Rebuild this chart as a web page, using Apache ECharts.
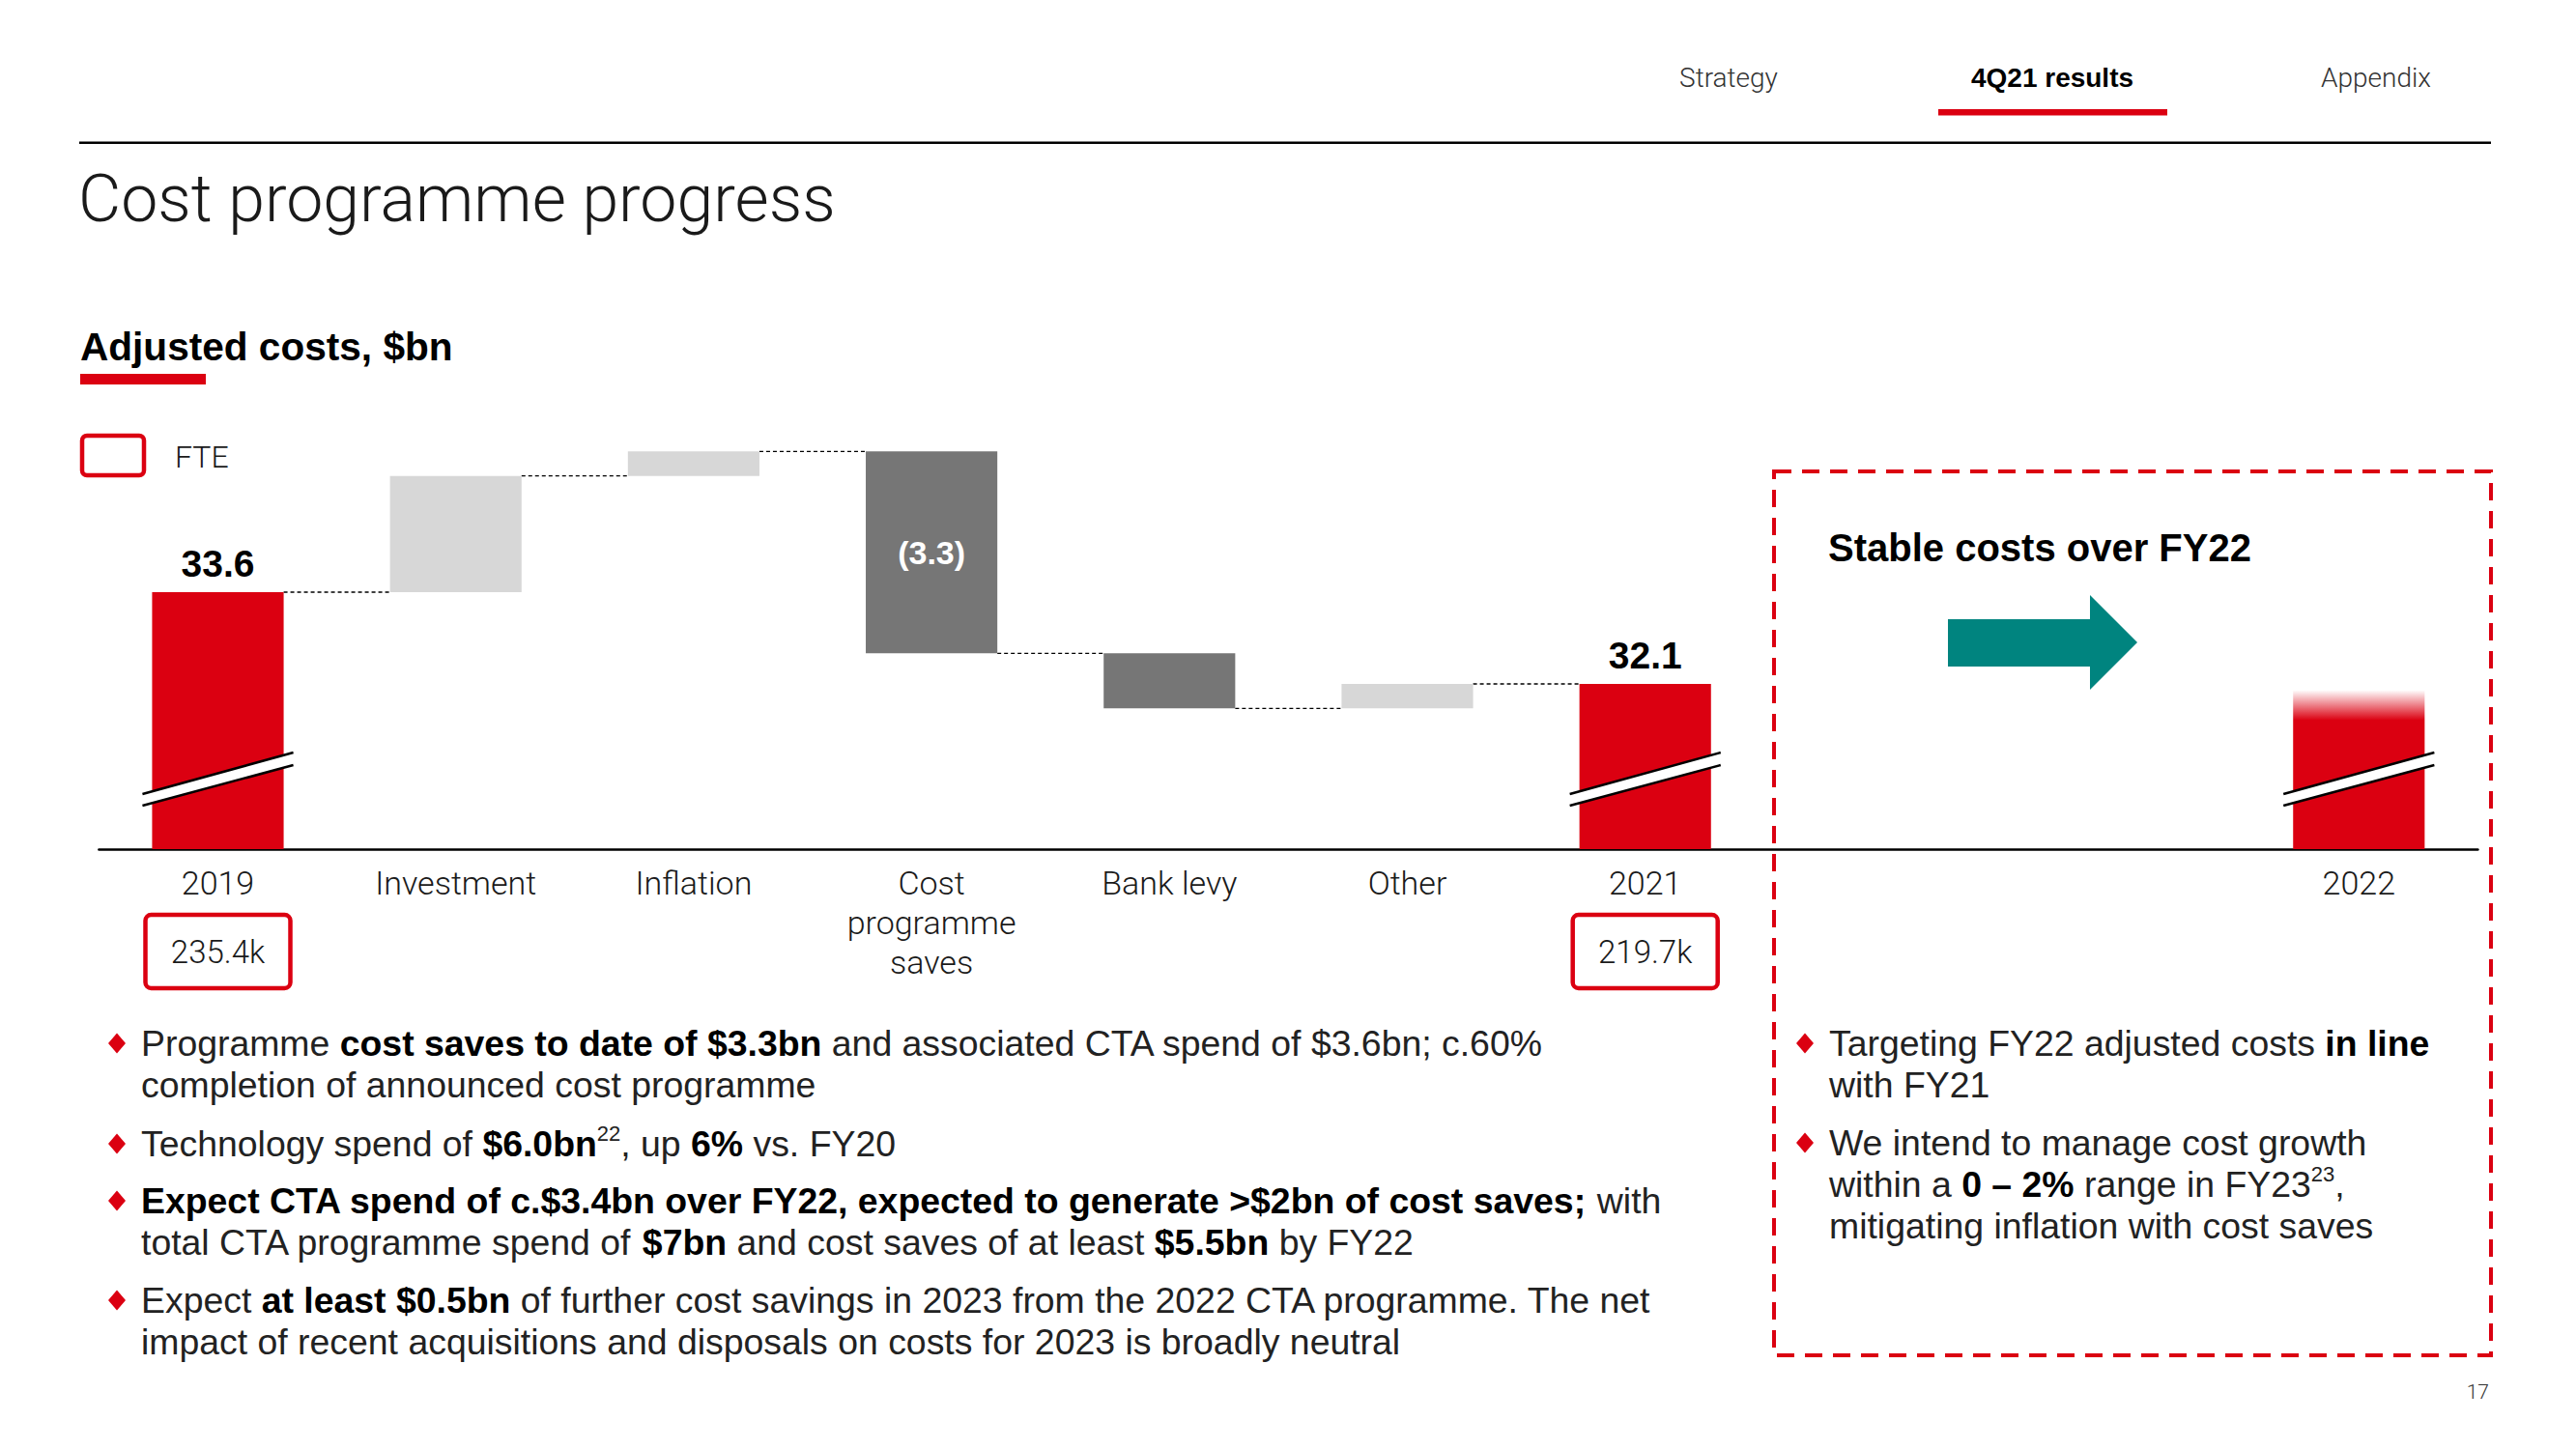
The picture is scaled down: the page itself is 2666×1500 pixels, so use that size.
<!DOCTYPE html>
<html><head><meta charset="utf-8">
<script src="https://cdn.jsdelivr.net/npm/echarts@6/dist/echarts.min.js"></script>
<style>html,body{margin:0;padding:0;background:#fff}#chart{width:2666px;height:1500px}</style>
</head><body><div id="chart"></div>
<script>
// ---- data ----
const categories = ['2019', 'Investment', 'Inflation', 'Cost\nprogramme\nsaves', 'Bank levy', 'Other', '2021', '', '', '2022'];
const totals = [33.6, null, null, null, null, null, 32.1, null, null, 32.0];
const changes = [null, 1.9, 0.4, -3.3, -0.9, 0.4, null, null, null, null];
const valueLabels = ['33.6', '', '', '(3.3)', '', '', '32.1', '', '', ''];
const fteLabels = ['235.4k', '', '', '', '', '', '219.7k', '', '', ''];
const projected = [false, false, false, false, false, false, false, false, false, true];
const axisFloor = 29.4;   // broken axis starts here
const axisCeil = 36.5;

const RED = '#DB0011', LIGHT = '#D7D7D7', DARK = '#767676', TEAL = '#00847F';
const F_LIGHT = 'Roboto', F_BODY = 'Liberation Sans', F_BOLD = 'Liberation Sans';

// build waterfall bars
const barData = [], connData = [];
let run = 0;
for (let i = 0; i < categories.length; i++) {
  if (totals[i] != null) {
    barData.push([i, axisFloor, totals[i], 0]);
    run = totals[i];
  } else if (changes[i] != null) {
    const a = run, b = run + changes[i];
    barData.push([i, Math.min(a, b), Math.max(a, b), changes[i] > 0 ? 1 : 2]);
    run = b;
  } else continue;
  barData[barData.length - 1].push(run);
}
for (let k = 0; k < barData.length - 1; k++) {
  if (barData[k + 1][0] === barData[k][0] + 1) connData.push([barData[k][0], barData[k][4]]);
}

function renderBar(params, api) {
  const i = api.value(0), lo = api.value(1), hi = api.value(2), kind = api.value(3);
  const pT = api.coord([i, hi]), pB = api.coord([i, lo]);
  const band = api.size([1, 0])[0];
  const w = band * 0.553;
  const cx = pT[0];
  let fill = kind === 0 ? RED : (kind === 1 ? LIGHT : DARK);
  if (projected[i]) {
    fill = {type: 'linear', x: 0, y: 0, x2: 0, y2: 1, colorStops: [
      {offset: 0, color: 'rgba(219,0,17,0)'}, {offset: 0.19, color: RED}, {offset: 1, color: RED}]};
  }
  const ch = [{type: 'rect', shape: {x: cx - w / 2, y: pT[1], width: w, height: pB[1] - pT[1]}, style: {fill: fill}}];
  if (kind === 0) {
    const by = pB[1], h = w / 2 + 10;
    ch.push({type: 'polygon', shape: {points: [[cx - h, by - 57], [cx + h, by - 100], [cx + h, by - 87], [cx - h, by - 45]]}, style: {fill: '#fff'}});
    ch.push({type: 'line', shape: {x1: cx - h, y1: by - 57, x2: cx + h, y2: by - 100}, style: {stroke: '#000', lineWidth: 2.5}});
    ch.push({type: 'line', shape: {x1: cx - h, y1: by - 45, x2: cx + h, y2: by - 87}, style: {stroke: '#000', lineWidth: 2.5}});
  }
  const lab = valueLabels[i];
  if (lab) {
    if (kind === 0) {
      ch.push({type: 'text', x: cx, y: pT[1] - 29, style: {text: lab, fill: '#000', fontSize: 39, fontWeight: 'bold', fontFamily: F_BOLD, align: 'center', verticalAlign: 'middle'}});
    } else {
      ch.push({type: 'text', x: cx, y: (pT[1] + pB[1]) / 2, style: {text: lab, fill: '#fff', fontSize: 34, fontWeight: 'bold', fontFamily: F_BOLD, align: 'center', verticalAlign: 'middle'}});
    }
  }
  return {type: 'group', children: ch};
}

function renderConn(params, api) {
  const i = api.value(0), lv = api.value(1);
  const p = api.coord([i, lv]);
  const band = api.size([1, 0])[0];
  const w = band * 0.553;
  return {type: 'line', shape: {x1: p[0] + w / 2, y1: p[1], x2: p[0] + band - w / 2, y2: p[1]},
    style: {stroke: '#000', lineWidth: 1.3, lineDash: [4, 3]}};
}

const chart = echarts.init(document.getElementById('chart'), null, {renderer: 'svg'});
chart.setOption({
  animation: false,
  grid: {left: 102.4, right: 101.6, top: 429.3, bottom: 621},
  xAxis: {type: 'category', data: categories,
    axisLine: {lineStyle: {color: '#000', width: 2.5}}, axisTick: {show: false},
    axisLabel: {interval: 0, margin: 14, fontFamily: F_LIGHT, fontWeight: 300, fontSize: 34, lineHeight: 41, color: '#1a1a1a'},
    splitLine: {show: false}},
  yAxis: {type: 'value', min: axisFloor, max: axisCeil, show: false},
  series: [
    {type: 'custom', renderItem: renderConn, data: connData, encode: {x: 0, y: 1}, z: 1, silent: true},
    {type: 'custom', renderItem: renderBar, data: barData, encode: {x: 0, y: [1, 2]}, z: 2, clip: false, silent: true}
  ]
});

// ---- slide furniture ----
function txt(x, y, text, o) {
  o = o || {};
  const va = o.va || 'middle';
  return {type: 'text', x: x, y: y, style: Object.assign({text: text, fill: o.fill || '#1a1a1a', fontSize: o.size || 34,
    fontFamily: o.family || F_LIGHT, fontWeight: o.weight || 300, align: o.align || 'left', verticalAlign: va,
    textAlign: o.align || 'left', textVerticalAlign: va}, o.rich ? {rich: o.rich} : {})};
}
function diamond(cx, cy) {
  return {type: 'polygon', shape: {points: [[cx, cy - 10.5], [cx + 9, cy], [cx, cy + 10.5], [cx - 9, cy]]}, style: {fill: RED}};
}
const BODY = 37.4, LH = 43;
const rich = {
  n: {fontFamily: F_BODY, fontWeight: 'normal', fontSize: BODY, lineHeight: LH, fill: '#222', color: '#222'},
  b: {fontFamily: F_BODY, fontWeight: 'bold', fontSize: BODY, lineHeight: LH, fill: '#000', color: '#000'},
  s: {fontFamily: F_BODY, fontWeight: 'normal', fontSize: 22, lineHeight: 30, verticalAlign: 'top', fill: '#222', color: '#222'}
};
// each bullet: cap-middle y of its first line, then its lines
const leftBullets = [
  [1080, ['{n|Programme }{b|cost saves to date of $3.3bn}{n| and associated CTA spend of $3.6bn; c.60%}',
          '{n|completion of announced cost programme}']],
  [1184, ['{n|Technology spend of }{b|$6.0bn}{s|22}{n|, up }{b|6%}{n| vs. FY20}']],
  [1243, ['{b|Expect CTA spend of c.$3.4bn over FY22, expected to generate >$2bn of cost saves;}{n| with}',
          '{n|total CTA programme spend of }{b|$7bn}{n| and cost saves of at least }{b|$5.5bn}{n| by FY22}']],
  [1346, ['{n|Expect }{b|at least $0.5bn}{n| of further cost savings in 2023 from the 2022 CTA programme. The net}',
          '{n|impact of recent acquisitions and disposals on costs for 2023 is broadly neutral}']]
];
const rightBullets = [
  [1080, ['{n|Targeting FY22 adjusted costs }{b|in line}', '{n|with FY21}']],
  [1183, ['{n|We intend to manage cost growth}', '{n|within a }{b|0 – 2%}{n| range in FY23}{s|23}{n|,}',
          '{n|mitigating inflation with cost saves}']]
];

const g = [];
// nav
g.push(txt(1789, 80, 'Strategy', {size: 28, align: 'center', fill: '#333'}));
g.push(txt(2124, 80, '4Q21 results', {size: 28, align: 'center', fill: '#000', weight: 'bold', family: F_BOLD}));
g.push(txt(2459, 80, 'Appendix', {size: 28, align: 'center', fill: '#333'}));
g.push({type: 'rect', shape: {x: 2006, y: 113, width: 237, height: 6.5}, style: {fill: RED}});
g.push({type: 'rect', shape: {x: 82, y: 146.5, width: 2496, height: 2.5}, style: {fill: '#000'}});
// titles
g.push(txt(81, 206, 'Cost programme progress', {size: 68, fill: '#1a1a1a'}));
g.push(txt(83, 359, 'Adjusted costs, $bn', {size: 40.6, fill: '#000', weight: 'bold', family: F_BOLD}));
g.push({type: 'rect', shape: {x: 83, y: 387, width: 130, height: 11}, style: {fill: RED}});
// legend
g.push({type: 'rect', shape: {x: 85, y: 451, width: 64, height: 41, r: 5}, style: {fill: 'none', stroke: RED, lineWidth: 4.5}});
g.push(txt(181, 473, 'FTE', {size: 32}));
// FTE boxes under categories
fteLabels.forEach(function (lab, i) {
  if (!lab) return;
  const x = chart.convertToPixel({xAxisIndex: 0}, i);
  g.push({type: 'rect', shape: {x: x - 75, y: 947, width: 150, height: 76, r: 6}, style: {fill: 'none', stroke: RED, lineWidth: 4.5}});
  g.push(txt(x, 985, lab, {size: 33, align: 'center'}));
});
// outlook box
g.push({type: 'rect', shape: {x: 1836, y: 488, width: 742, height: 915}, style: {fill: 'none', stroke: RED, lineWidth: 4, lineDash: [18, 11]}});
g.push(txt(1892, 567, 'Stable costs over FY22', {size: 40, fill: '#000', weight: 'bold', family: F_BOLD}));
g.push({type: 'polygon', shape: {points: [[2016, 641], [2163, 641], [2163, 616], [2212, 665], [2163, 714], [2163, 690], [2016, 690]]}, style: {fill: TEAL}});
// bullets
function addBullets(list, dx, tx) {
  list.forEach(function (b) {
    g.push(diamond(dx, b[0]));
    g.push(txt(tx, b[0] - LH / 2, b[1].join('\n'), {rich: rich, size: BODY, family: F_BODY, va: 'top'}));
  });
}
addBullets(leftBullets, 121, 146);
addBullets(rightBullets, 1868, 1893);
g.push(txt(2576, 1441, '17', {size: 21, align: 'right', fill: '#333'}));

chart.setOption({graphic: {elements: g}});
</script></body></html>
